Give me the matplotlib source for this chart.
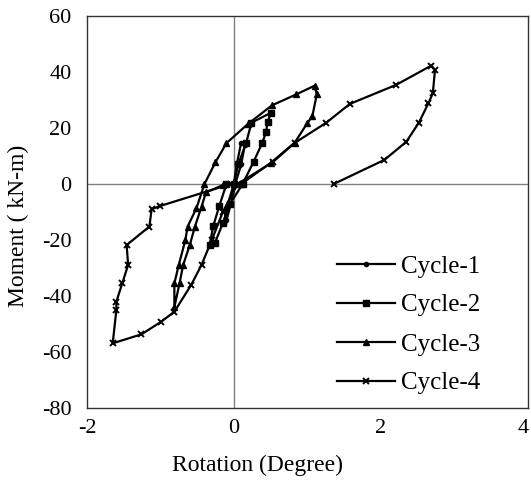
import matplotlib.pyplot as plt
from matplotlib.transforms import ScaledTranslation

plt.rcParams['font.family'] = ['Liberation Serif', 'DejaVu Serif']
plt.rcParams['axes.unicode_minus'] = False

# rotation (deg) / moment (kN-m) for each loading cycle
cycle1_rot = [0.0, 0.04, 0.10, 0.15, 0.10, 0.02, -0.04, -0.10, -0.14, -0.08, 0.0]
cycle1_mom = [0.0, 7.0, 14.8, 14.0, 7.0, 0.0, -7.0, -13.0, -14.0, -7.0, 0.0]

cycle2_rot = [0.0, 0.06, 0.17, 0.24, 0.51, 0.46, 0.44, 0.39, 0.27, 0.12,
              -0.05, -0.15, -0.26, -0.33, -0.28, -0.20, -0.10]
cycle2_mom = [0.0, 7.0, 14.8, 21.9, 25.5, 22.3, 18.7, 14.8, 8.0, 0.0,
              -7.0, -14.0, -21.2, -21.8, -15.0, -8.0, 0.0]

cycle3_rot = [0.0, -0.15, -0.38, -0.44, -0.53, -0.60, -0.69, -0.74, -0.81,
              -0.81, -0.75, -0.66, -0.63, -0.51, -0.40, -0.25, -0.10, 0.19,
              0.52, 0.85, 1.10, 1.13, 1.07, 1.00, 0.83, 0.50, 0.10]
cycle3_mom = [0.0, -0.4, -3.0, -8.1, -15.2, -21.8, -28.9, -35.5, -44.0,
              -35.5, -28.9, -20.0, -15.2, -8.7, 0.0, 7.8, 14.6, 21.4,
              28.1, 32.0, 35.1, 32.0, 24.3, 21.7, 14.8, 7.5, 0.0]

cycle4_rot = [-0.04, -1.01, -1.12, -1.15, -1.46, -1.44, -1.52, -1.60, -1.60,
              -1.65, -1.26, -0.99, -0.81, -0.58, -0.44, -0.30, -0.15, 0.05,
              0.53, 0.83, 1.26, 1.58, 2.21, 2.69, 2.74, 2.71, 2.65, 2.52,
              2.35, 2.05, 1.36]
cycle4_mom = [0.0, -7.9, -9.0, -15.2, -21.8, -28.9, -35.5, -42.0, -45.0,
              -56.9, -53.7, -49.2, -45.6, -36.0, -28.9, -20.0, -10.0, 0.0,
              7.8, 14.7, 21.9, 28.6, 35.4, 42.3, 40.7, 32.4, 28.8, 21.9,
              15.1, 8.6, 0.0]

x_ticks = [-2, 0, 2, 4]
y_ticks = [-80, -60, -40, -20, 0, 20, 40, 60]

fig = plt.figure(figsize=(5.31, 4.8), dpi=100)
ax = fig.add_axes([87 / 531, 1 - 408 / 480, 440.5 / 531, 392 / 480])

# zero lines
ax.axhline(0, color='#808080', lw=1.0, zorder=1)
ax.axvline(0, color='#808080', lw=1.0, zorder=1)

style = dict(color='black', lw=1.6, zorder=3)
ax.plot(cycle1_rot, cycle1_mom, marker='o', ms=3, label='Cycle-1', **style)
ax.plot(cycle2_rot, cycle2_mom, marker='s', ms=4, label='Cycle-2', **style)
ax.plot(cycle3_rot, cycle3_mom, marker='^', ms=4, label='Cycle-3', **style)
ax.plot(cycle4_rot, cycle4_mom, marker='x', ms=4, mew=1.4, label='Cycle-4', **style)

ax.set_xlim(-2, 4)
ax.set_ylim(-80, 60)
ax.set_xticks(x_ticks)
ax.set_yticks(y_ticks)
ax.tick_params(length=0, labelsize=16)
ax.tick_params(axis='y', pad=11)
ax.tick_params(axis='x', pad=8)
for s in ax.spines.values():
    s.set_linewidth(1.0)
    s.set_color('#333333')

# keep the last x label inside the figure
fig.canvas.draw()
last = ax.get_xticklabels()[-1]
last.set_transform(last.get_transform() + ScaledTranslation(-4 / 100, 0, fig.dpi_scale_trans))

fig.text(258 / 531, 1 - 465 / 480, 'Rotation (Degree)', fontsize=17,
         ha='center', va='center')
fig.text(18 / 531, 1 - 226 / 480, 'Moment ( kN-m)', fontsize=17,
         ha='center', va='center', rotation=90)

ax.legend(loc='upper left', bbox_to_anchor=(337 / 531, 1 - 255 / 480),
          bbox_transform=fig.transFigure, frameon=False, fontsize=18,
          handlelength=2.3, handletextpad=0.25, labelspacing=0.66,
          borderpad=0, borderaxespad=0)

fig.savefig('out.png', dpi=100)
